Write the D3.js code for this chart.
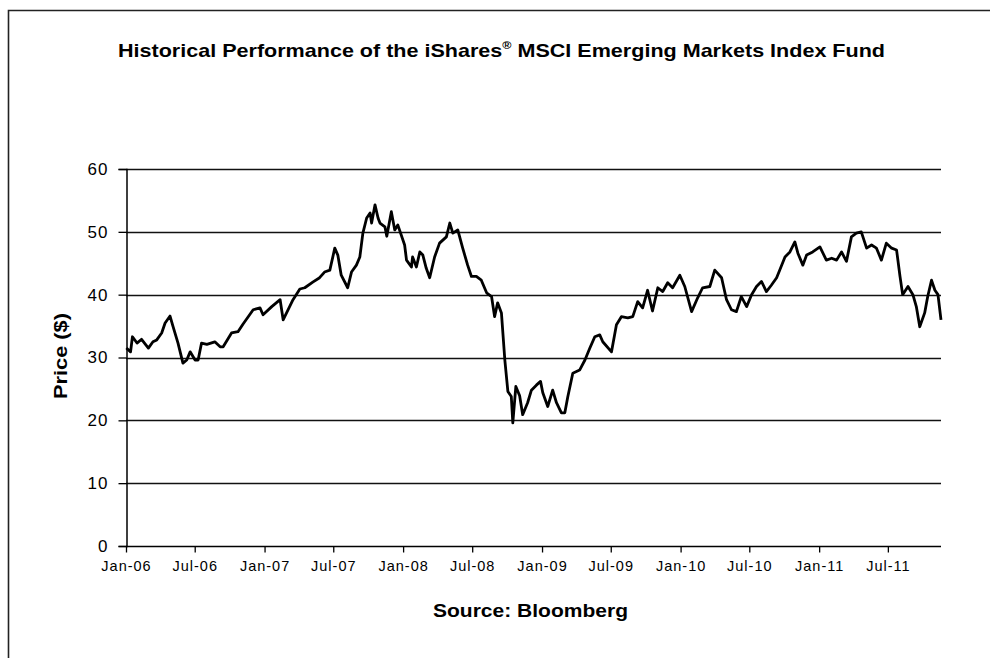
<!DOCTYPE html>
<html><head><meta charset="utf-8">
<script src="https://cdn.jsdelivr.net/npm/d3@7"></script>
<style>
html,body{margin:0;padding:0;background:#fff;}
text{font-family:"Liberation Sans",Arial,sans-serif;fill:#000;}
</style></head>
<body>
<svg id="chart" width="990" height="658"></svg>
<script>
const titleText = "Historical Performance of the iShares";
const titleRest = " MSCI Emerging Markets Index Fund";
const yLabel = "Price ($)";
const xLabel = "Source: Bloomberg";
const yTicks = [0,10,20,30,40,50,60];
const xTickLabels = ["Jan-06","Jul-06","Jan-07","Jul-07","Jan-08","Jul-08","Jan-09","Jul-09","Jan-10","Jul-10","Jan-11","Jul-11"];
const xTickDates = ["2006-01-01","2006-07-01","2007-01-01","2007-07-01","2008-01-01","2008-07-01","2009-01-01","2009-07-01","2010-01-01","2010-07-01","2011-01-01","2011-07-01"];
const dates = [
"2006-01-02","2006-01-13","2006-01-18","2006-01-30","2006-02-11","2006-03-01","2006-03-13","2006-03-23","2006-04-05","2006-04-14","2006-04-27","2006-05-05","2006-05-18","2006-05-31","2006-06-10","2006-06-19","2006-07-02","2006-07-10","2006-07-19","2006-08-02","2006-08-23","2006-09-06","2006-09-14","2006-10-06","2006-10-23","2006-11-05","2006-12-02","2006-12-20","2006-12-28",
"2007-01-20","2007-02-11","2007-02-19","2007-02-28","2007-03-17","2007-04-04","2007-04-17","2007-05-08","2007-05-26","2007-06-08","2007-06-22","2007-07-05","2007-07-13","2007-07-22","2007-08-08","2007-08-18","2007-08-31","2007-09-09","2007-09-17","2007-09-27","2007-10-06","2007-10-10","2007-10-19","2007-10-27","2007-11-01","2007-11-14","2007-11-19","2007-12-01","2007-12-10","2007-12-18",
"2008-01-05","2008-01-10","2008-01-23","2008-01-26","2008-02-05","2008-02-14","2008-02-22","2008-03-02","2008-03-11","2008-03-24","2008-04-06","2008-04-24","2008-05-03","2008-05-11","2008-05-24","2008-06-06","2008-06-19","2008-06-29","2008-07-12","2008-07-25","2008-08-08","2008-08-21","2008-08-29","2008-09-06","2008-09-16","2008-09-25","2008-10-03","2008-10-12","2008-10-16","2008-10-24","2008-11-03","2008-11-11","2008-11-24","2008-12-04","2008-12-17","2008-12-28",
"2009-01-03","2009-01-16","2009-01-29","2009-02-08","2009-02-21","2009-03-02","2009-03-10","2009-03-23","2009-04-10","2009-04-24","2009-05-07","2009-05-20","2009-06-02","2009-06-10","2009-07-03","2009-07-16","2009-07-29","2009-08-15","2009-08-28","2009-09-10","2009-09-23","2009-10-06","2009-10-19","2009-11-02","2009-11-15","2009-11-28","2009-12-11","2009-12-30",
"2010-01-12","2010-01-30","2010-02-15","2010-02-28","2010-03-19","2010-04-01","2010-04-19","2010-05-02","2010-05-15","2010-05-28","2010-06-10","2010-06-24","2010-07-07","2010-07-20","2010-08-02","2010-08-15","2010-08-28","2010-09-11","2010-09-19","2010-10-03","2010-10-16","2010-10-29","2010-11-06","2010-11-19","2010-11-29","2010-12-15",
"2011-01-03","2011-01-20","2011-02-03","2011-02-16","2011-03-01","2011-03-14","2011-03-27","2011-04-09","2011-04-22","2011-05-06","2011-05-19","2011-06-01","2011-06-14","2011-06-27","2011-07-11","2011-07-24","2011-08-02","2011-08-09","2011-08-23","2011-09-05","2011-09-14","2011-09-23","2011-10-06","2011-10-14","2011-10-24","2011-11-02","2011-11-10","2011-11-18"
];
const prices = [
31.5,30.9,33.3,32.3,32.9,31.5,32.5,32.8,33.9,35.5,36.6,34.9,32.3,29.1,29.6,30.9,29.6,29.6,32.3,32.1,32.5,31.7,31.7,33.9,34.1,35.3,37.6,37.9,36.8,
38.1,39.2,36.0,37.1,39.2,40.9,41.1,42.0,42.7,43.6,43.9,47.4,46.3,43.1,41.1,43.6,44.7,46.0,49.8,52.2,53.0,51.4,54.3,52.2,51.4,50.8,49.3,53.2,50.3,51.1,
47.9,45.5,44.4,46.0,44.4,46.8,46.3,44.2,42.7,46.0,48.2,49.2,51.4,49.8,50.3,47.4,44.7,42.9,42.9,42.3,40.3,39.7,36.5,38.7,37.1,29.6,24.6,23.8,19.6,25.4,23.9,20.9,22.8,24.8,25.6,26.2,
24.4,22.2,24.8,22.8,21.2,21.2,23.8,27.5,28.0,29.6,31.5,33.3,33.6,32.5,30.9,35.2,36.5,36.3,36.5,38.9,37.9,40.7,37.4,41.1,40.5,41.9,41.1,43.1,
41.3,37.3,39.5,41.1,41.3,43.9,42.7,39.2,37.6,37.3,39.7,38.1,40.0,41.3,42.1,40.5,41.5,42.7,43.9,46.0,46.8,48.4,46.6,44.7,46.3,46.8,
47.6,45.5,45.8,45.5,46.8,45.3,49.2,49.8,50.0,47.4,47.9,47.4,45.5,48.2,47.4,47.1,42.9,40.0,41.3,40.0,38.1,34.9,37.1,39.7,42.3,40.7,40.0,36.0
];

const parse = d3.timeParse("%Y-%m-%d");
const data = dates.map((d,i)=>({date:parse(d), v:prices[i]}));

const svg = d3.select("#chart");
// outer frame
svg.append("path").attr("d","M8.5,700 V10.5 H1000").attr("fill","none").attr("stroke","#222").attr("stroke-width",1.6);

const x = d3.scaleTime().domain([parse("2006-01-01"), parse("2011-11-18")]).range([126, 941]);
const y = d3.scaleLinear().domain([0,60]).range([546,169]);

// gridlines
svg.append("g").selectAll("line").data(yTicks.filter(t=>t>0)).join("line")
  .attr("x1",126).attr("x2",941).attr("y1",d=>Math.round(y(d))+0.5).attr("y2",d=>Math.round(y(d))+0.5)
  .attr("stroke","#111").attr("stroke-width",1.3);

// y axis
const yAxis = d3.axisLeft(y).tickValues(yTicks).tickSize(8).tickPadding(10).tickFormat(d3.format("d"));
const gy = svg.append("g").attr("transform","translate(126.5,0)").call(yAxis);
gy.select(".domain").attr("stroke","#000").attr("stroke-width",1.5);
gy.selectAll(".tick line").attr("stroke","#000").attr("stroke-width",1.3);
gy.selectAll(".tick text").attr("font-size",17).attr("fill","#000").attr("font-family","Liberation Sans, Arial, sans-serif").attr("letter-spacing","1px");

// x axis
const xAxis = d3.axisBottom(x).tickValues(xTickDates.map(parse)).tickSize(6).tickPadding(8)
  .tickFormat((d,i)=>xTickLabels[i]);
const gx = svg.append("g").attr("transform","translate(0,546.5)").call(xAxis);
gx.select(".domain").attr("stroke","#000").attr("stroke-width",1.5).attr("d","M126,0H941");
gx.selectAll(".tick line").attr("stroke","#000").attr("stroke-width",1.3);
gx.selectAll(".tick text").attr("font-size",14.5).attr("fill","#000").attr("font-family","Liberation Sans, Arial, sans-serif").attr("letter-spacing","1px");

// line
const line = d3.line().x(d=>x(d.date)).y(d=>y(d.v));
svg.append("path").datum(data).attr("d",line).attr("fill","none").attr("stroke","#000")
  .attr("stroke-width",2.8).attr("stroke-linejoin","round");

// title
const t = svg.append("text").attr("x",501.5).attr("y",57).attr("text-anchor","middle")
  .attr("font-size",19).attr("font-weight","bold").attr("textLength",767).attr("lengthAdjust","spacingAndGlyphs");
t.append("tspan").text(titleText);
t.append("tspan").attr("font-size",11).attr("dy",-8).text("®");
t.append("tspan").attr("dy",8).text(titleRest);

// y label
svg.append("text").attr("transform","translate(67,356) rotate(-90)").attr("text-anchor","middle")
  .attr("font-size",18).attr("font-weight","bold").attr("textLength",86).attr("lengthAdjust","spacingAndGlyphs").text(yLabel);

// x label
svg.append("text").attr("x",530.5).attr("y",617).attr("text-anchor","middle")
  .attr("font-size",18).attr("font-weight","bold").attr("textLength",195).attr("lengthAdjust","spacingAndGlyphs").text(xLabel);
</script>
</body></html>
